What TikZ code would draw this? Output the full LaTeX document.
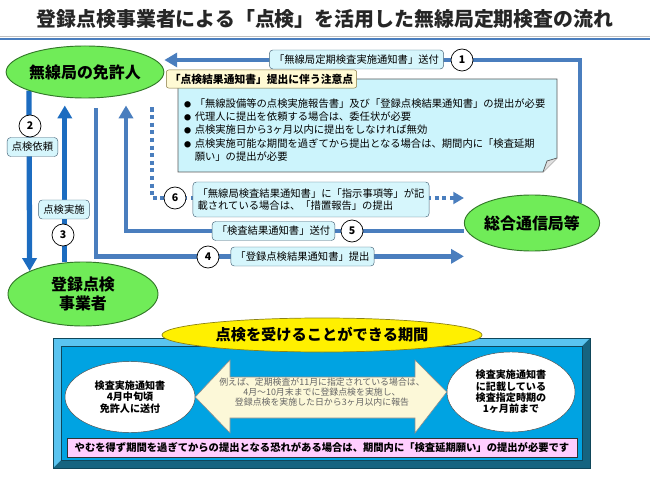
\documentclass[tikz,border=0pt]{standalone}
\usepackage{fontspec}
\setmainfont{Noto Sans CJK JP}
\usetikzlibrary{arrows.meta,shapes.geometric}
\definecolor{grass}{RGB}{112,236,88}
\definecolor{grassline}{RGB}{50,120,40}
\definecolor{steel}{RGB}{74,126,190}
\definecolor{royal}{RGB}{28,108,192}
\definecolor{tagfill}{RGB}{214,246,252}
\definecolor{tagline}{RGB}{70,100,120}
\definecolor{notefill}{RGB}{204,244,252}
\definecolor{tabfill}{RGB}{255,250,212}
\definecolor{tabline}{RGB}{130,115,60}
\definecolor{face}{RGB}{0,163,226}
\definecolor{bevlight}{RGB}{90,196,240}
\definecolor{bevdark}{RGB}{22,100,128}
\definecolor{sun}{RGB}{255,240,0}
\definecolor{sunline}{RGB}{140,130,20}
\definecolor{cream}{RGB}{252,248,216}
\definecolor{pinkbar}{RGB}{255,206,255}
\pgfdeclarelayer{bg}
\pgfsetlayers{bg,main}

\begin{document}
\begin{tikzpicture}[x=0.03cm,y=-0.03cm,
  office/.style={ellipse,draw=grassline,fill=grass,line width=0.8pt,inner sep=0pt,
    align=center,font=\fontsize{13.6}{16}\selectfont\bfseries},
  tag/.style={draw=tagline,fill=tagfill,rounded corners=3pt,inner xsep=4pt,inner ysep=0pt,
    minimum height=0.57cm,align=center,font=\fontsize{8.8}{10.5}\selectfont},
  num/.style={circle,draw,fill=white,line width=0.6pt,minimum size=0.66cm,inner sep=0pt,
    font=\fontsize{9}{9}\selectfont\bfseries},
  flow/.style={line width=4pt,draw=steel,-{Triangle[length=11pt,width=12pt]}},
  flowdark/.style={flow,line width=4.5pt,draw=royal},
  dotflow/.style={line width=3.5pt,draw=steel,dash pattern=on 3.5pt off 3pt,
    -{Triangle[length=9pt,width=10pt]}},
  bubble/.style={ellipse,draw=black!70,fill=white,inner sep=0pt,align=center,
    font=\fontsize{8.6}{9.6}\selectfont\bfseries}
]
  \useasboundingbox (0,0) rectangle (650,488);

  % title
  \node[font=\fontsize{17}{20}\selectfont\bfseries,text=black!85] (title) at (325,19)
    {登録点検事業者による「点検」を活用した無線局定期検査の流れ};
  \draw[black!25,line width=0.6pt] (0,36.5) -- (650,36.5);
  \draw[steel,line width=1.4pt] (0,39.3) -- (650,39.3);

  % offices
  \node[office,minimum width=4.68cm,minimum height=1.56cm] (menkyo) at (85,72) {無線局の免許人};
  \node[office,minimum width=4.02cm,minimum height=1.68cm] (soumu) at (532,223) {総合通信局等};
  \node[office,minimum width=4.5cm,minimum height=1.92cm] (jigyo) at (83,294) {登録点検\\事業者};

  % notes box
  \filldraw[fill=notefill,draw=black!65,line width=0.6pt]
    (178,79) -- (557,79) -- (557,158) -- (543,172) -- (178,172) -- cycle;
  \filldraw[fill=black!12,draw=black!65,line width=0.6pt]
    (557,158) -- (547,161) -- (543,172);
  \node[draw=tabline,fill=tabfill,rounded corners=2pt,inner xsep=3pt,minimum height=0.54cm,
    font=\fontsize{9.2}{10}\selectfont\bfseries] (tab) at (261.5,79) {「点検結果通知書」提出に伴う注意点};
  \node[anchor=north west,inner sep=0pt,font=\fontsize{8.8}{11.3}\selectfont] (points) at (184,98)
    {\begin{tabular}{@{}l@{\hspace{3pt}}l@{}}
      {\fontsize{6}{6}\selectfont ●} & 「無線設備等の点検実施報告書」及び「登録点検結果通知書」の提出が必要\\
      {\fontsize{6}{6}\selectfont ●} & 代理人に提出を依頼する場合は、委任状が必要\\
      {\fontsize{6}{6}\selectfont ●} & 点検実施日から3ヶ月以内に提出をしなければ無効\\
      {\fontsize{6}{6}\selectfont ●} & 点検実施可能な期間を過ぎてから提出となる場合は、期間内に「検査延期\\
       & 願い」の提出が必要
    \end{tabular}};

  % labels on the flows
  \node[tag] (send1) at (356.5,59.5) {「無線局定期検査実施通知書」送付};
  \node[num] (n1) at (462,60) {1};
  \node[tag] (ask) at (32.5,147) {点検依頼};
  \node[num] (n2) at (30,126) {2};
  \node[tag] (done) at (64,209.5) {点検実施};
  \node[num] (n3) at (63,235) {3};
  \node[tag] (send4) at (302.5,256.5) {「登録点検結果通知書」提出};
  \node[num] (n4) at (208,257) {4};
  \node[tag] (send5) at (273.5,231) {「検査結果通知書」送付};
  \node[num] (n5) at (352,231) {5};
  \node[tag,minimum height=1.05cm,align=left] (send6) at (311,199.5)
    {「無線局検査結果通知書」に「指示事項等」が記\\載されている場合は、「措置報告」の提出};
  \node[num] (n6) at (175,198) {6};

  \coordinate (c5) at ([yshift=-0.21cm]menkyo.south);
  \begin{pgfonlayer}{bg}
    \draw[flow] (soumu.north east) |- (menkyo.east |- n1);
    \draw[flowdark] (menkyo.south west) -- (jigyo.north west);
    \draw[flowdark] (jigyo.120) -- (jigyo.120 |- c5);
    \draw[flow] ([xshift=0.33cm,yshift=-0.3cm]menkyo.south) |- ([yshift=-1cm]soumu.west);
    \draw[flow] ([yshift=-0.24cm]soumu.west) -| ([xshift=1.23cm]c5);
    \draw[dotflow] ([xshift=2.01cm,yshift=-0.27cm]menkyo.south) |- ([yshift=0.75cm]soumu.west);
  \end{pgfonlayer}

  % inspection period panel
  \fill[bevdark] (53,338) rectangle (590,468);
  \fill[bevlight] (53,338) -- (590,338) -- (582,346) -- (61,346) -- (61,460) -- (53,468) -- cycle;
  \fill[face] (61,346) rectangle (582,460);
  \draw[bevdark!70!black,line width=0.5pt] (53,338) rectangle (590,468);
  \draw[bevdark!70!black,line width=0.4pt] (61,346) rectangle (582,460);
  \node[ellipse,draw=sunline,fill=sun,line width=0.6pt,minimum width=9.6cm,minimum height=1.02cm,
    inner sep=0pt,font=\fontsize{13}{15}\selectfont\bfseries] (period) at (322,335)
    {点検を受けることができる期間};
  \node[bubble,minimum width=3.9cm,minimum height=2.13cm] (start) at (130,397)
    {検査実施通知書\\4月中旬頃\\免許人に送付};
  \node[bubble,minimum width=3.84cm,minimum height=2.4cm] (limit) at (511,392)
    {検査実施通知書\\に記載している\\検査指定時期の\\1ヶ月前まで};
  \filldraw[fill=cream,draw=black!45,line width=0.5pt]
    (start.east) -- (230,360) -- (230,377) -- (415,377) -- (415,360) -- (limit.west)
    -- (415,433) -- (415,418) -- (230,418) -- (230,433) -- cycle;
  \node[align=center,text=black!60,font=\fontsize{7.6}{8.6}\selectfont] (example) at (322,392)
    {例えば、定期検査が11月に指定されている場合は、\\4月～10月末までに登録点検を実施し、\\登録点検を実施した日から3ヶ月以内に報告};
  \node[draw=black!80,fill=pinkbar,line width=0.5pt,minimum width=15.3cm,minimum height=0.57cm,
    inner sep=0pt,font=\fontsize{8.8}{10}\selectfont\bfseries] (warn) at (322,447.5)
    {やむを得ず期間を過ぎてからの提出となる恐れがある場合は、期間内に「検査延期願い」の提出が必要です};
\end{tikzpicture}
\end{document}
